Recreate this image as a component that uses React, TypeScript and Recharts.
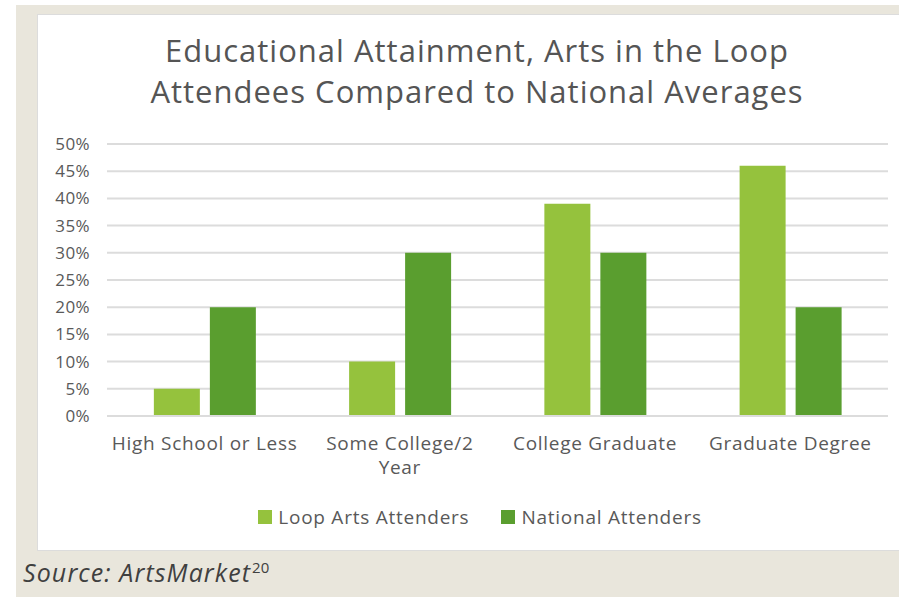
import React from 'react';
import { BarChart, Bar, XAxis, YAxis, CartesianGrid, Legend } from 'recharts';

const categories = ['High School or Less', 'Some College/2 Year', 'College Graduate', 'Graduate Degree'];
const xTickLabels = ['High School or Less', 'Some College/2\nYear', 'College Graduate', 'Graduate Degree'];
const loopArts = [5, 10, 39, 46];
const national = [20, 30, 30, 20];
const yTicks = [0, 5, 10, 15, 20, 25, 30, 35, 40, 45, 50];

const data = categories.map((c, i) => ({ name: c, loop: loopArts[i], national: national[i] }));

const FONT = '"Open Sans", sans-serif';
const TEXT = '#595959';

const XTick = (props: any) => {
  const { x, y, payload, index } = props;
  const label = xTickLabels[index] ?? payload.value;
  const lines = label.split('\n');
  return (
    <text x={x} y={y} textAnchor="middle" fill={TEXT} fontSize={19} fontFamily={FONT} letterSpacing={0.7}>
      {lines.map((l: string, i: number) => (
        <tspan key={i} x={x} dy={i === 0 ? '0.85em' : 24}>
          {l}
        </tspan>
      ))}
    </text>
  );
};

const LegendContent = (props: any) => {
  const { payload } = props;
  return (
    <div style={{ display: 'flex', justifyContent: 'center', alignItems: 'center', fontFamily: FONT, fontSize: 19, letterSpacing: 0.75, color: TEXT }}>
      {(payload || []).map((p: any, i: number) => (
        <div key={i} style={{ display: 'flex', alignItems: 'center', marginLeft: i === 0 ? 0 : 32 }}>
          <span style={{ display: 'inline-block', width: 14, height: 14, background: p.color, marginRight: 6 }} />
          <span>{p.value}</span>
        </div>
      ))}
    </div>
  );
};

export default function App() {
  return (
    <div style={{ position: 'absolute', left: 0, top: 0, width: 899, height: 597, background: '#fff', overflow: 'hidden', fontFamily: FONT }}>
      <div style={{ position: 'absolute', left: 16, top: 5, width: 883, height: 592, background: '#e9e6dc' }} />
      <div style={{ position: 'absolute', left: 37, top: 14, width: 862, height: 537, background: '#fff', borderTop: '1px solid #dcdcdc', borderLeft: '1px solid #dcdcdc', borderBottom: '1px solid #dcdcdc', boxSizing: 'border-box' }} />
      <div style={{ position: 'absolute', left: 37, top: 30, width: 880, textAlign: 'center', color: '#555555', fontSize: 31, lineHeight: '41px', letterSpacing: 1 }}>
        Educational Attainment, Arts in the Loop
        <br />
        Attendees Compared to National Averages
      </div>
      <div style={{ position: 'absolute', left: 23, top: 555, color: '#404040', fontSize: 25, fontStyle: 'italic', letterSpacing: 1.1 }}>
        Source: ArtsMarket<sup style={{ fontSize: 15, fontStyle: 'normal', letterSpacing: 0, marginLeft: 1 }}>20</sup>
      </div>
      <div style={{ position: 'absolute', left: 37, top: 14 }}>
        <BarChart
          width={862}
          height={537}
          data={data}
          margin={{ top: 130, right: 11, left: 0, bottom: 75 }}
          barCategoryGap="24%"
          barGap={10}
        >
          <CartesianGrid vertical={false} stroke="#dcdcdc" strokeWidth={2} />
          <XAxis
            dataKey="name"
            axisLine={{ stroke: '#dcdcdc', strokeWidth: 2 }}
            tickLine={false}
            tickSize={0}
            tickMargin={18}
            height={60}
            interval={0}
            tick={<XTick />}
          />
          <YAxis
            width={70}
            domain={[0, 50]}
            ticks={yTicks}
            interval={0}
            axisLine={false}
            tickLine={false}
            tickSize={0}
            tickMargin={17}
            tickFormatter={(v: number) => `${v}%`}
            tick={{ fill: TEXT, fontSize: 17, fontFamily: FONT, letterSpacing: 0.4 }}
          />
          <Legend
            layout="horizontal"
            verticalAlign="middle"
            align="center"
            wrapperStyle={{ top: 490, left: 163, width: 560 }}
            content={<LegendContent />}
          />
          <Bar dataKey="loop" name="Loop Arts Attenders" fill="#95c23d" isAnimationActive={false} />
          <Bar dataKey="national" name="National Attenders" fill="#5a9e2f" isAnimationActive={false} />
        </BarChart>
      </div>
    </div>
  );
}
